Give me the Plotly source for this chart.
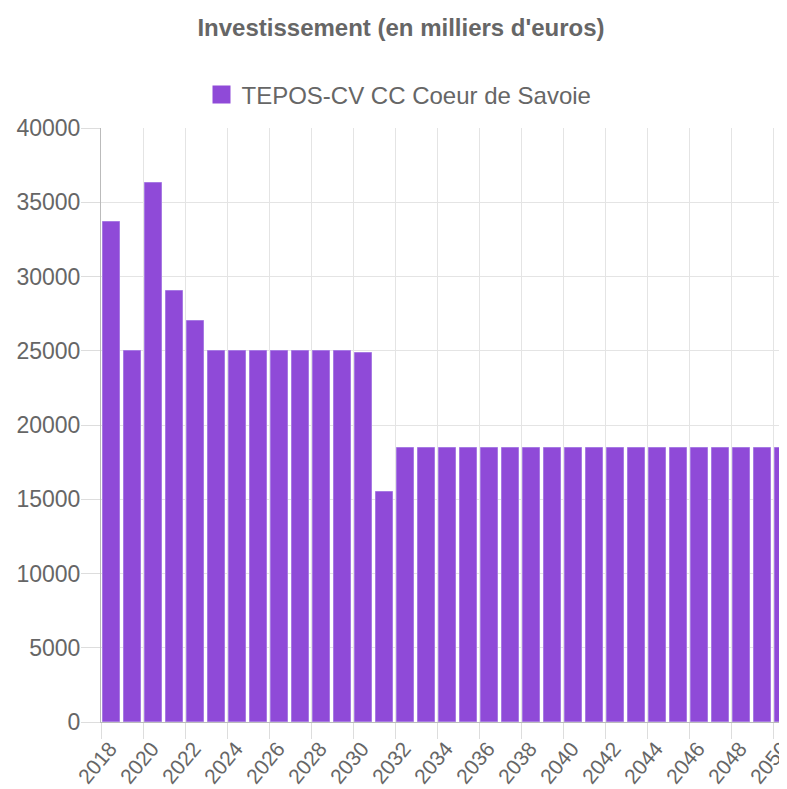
import plotly.graph_objects as go

years = list(range(2018, 2051))
values = [33700, 25000, 36300, 29000, 27000, 25000, 25000, 25000, 25000, 25000,
          25000, 25000, 24870, 15500] + [18450] * 19
series_name = "TEPOS-CV CC Coeur de Savoie"
title_text = "Investissement (en milliers d'euros)"
tick_years = list(range(2018, 2051, 2))
y_ticks = [0, 5000, 10000, 15000, 20000, 25000, 30000, 35000, 40000]

bar_color = "#8f4ad8"
font_fam = "Liberation Sans, Arial, sans-serif"

# page body adds an 8px margin; figure sized/offset to compensate
W, H = 779, 781
ML, MT, MB, MR = 93, 120, 67, 0
plot_w = W - ML - MR
plot_h = H - MT - MB

fig = go.Figure()
fig.add_trace(go.Bar(
    x=[y + 0.5 for y in years], y=values, width=0.78,
    marker=dict(color=bar_color, line=dict(color="#a77ae3", width=1)),
    name=series_name, showlegend=False, legendgroup="g",
))
fig.add_trace(go.Scatter(
    x=[None], y=[None], mode="markers", name=series_name, legendgroup="g",
    marker=dict(symbol="square", size=16, color=bar_color,
                line=dict(color=bar_color, width=2)),
))

fig.update_layout(
    width=W, height=H,
    margin=dict(l=ML, r=MR, t=MT, b=MB, autoexpand=False),
    plot_bgcolor="white", paper_bgcolor="white",
    font=dict(family=font_fam, color="#666666"),
    title=dict(text="<b>" + title_text + "</b>", x=393 / W, xanchor="center",
               xref="container", y=1 - 20 / H, yref="container", yanchor="middle",
               font=dict(size=24, color="#666666")),
    legend=dict(orientation="h", x=(391 - ML) / plot_w, xanchor="center", xref="paper",
                y=1 + (MT - 87) / plot_h, yanchor="middle",
                font=dict(size=24, color="#666666"), itemsizing="trace"),
    bargap=0,
    xaxis=dict(range=[2018, 2018 + plot_w / 21], tickmode="array",
               tickvals=tick_years, ticktext=[str(t) for t in tick_years],
               tickangle=-50, ticks="outside", ticklen=16, tickcolor="#dddddd",
               ticklabelstandoff=-11, ticklabelshift=9, ticklabeloverflow="allow",
               showgrid=True, gridcolor="#e4e4e4", gridwidth=1,
               showline=True, linecolor="#bbbbbb", linewidth=1,
               tickfont=dict(size=21, color="#666666"), zeroline=False),
    yaxis=dict(range=[0, 40000], tickmode="array", tickvals=y_ticks,
               tickformat="d",
               ticks="outside", ticklen=19, tickcolor="#dddddd",
               showgrid=True, gridcolor="#e4e4e4", gridwidth=1,
               showline=True, linecolor="#bbbbbb", linewidth=1,
               tickfont=dict(size=23, color="#666666"), zeroline=False,
               ticklabelstandoff=-4),
)

fig.write_html("out.html")
